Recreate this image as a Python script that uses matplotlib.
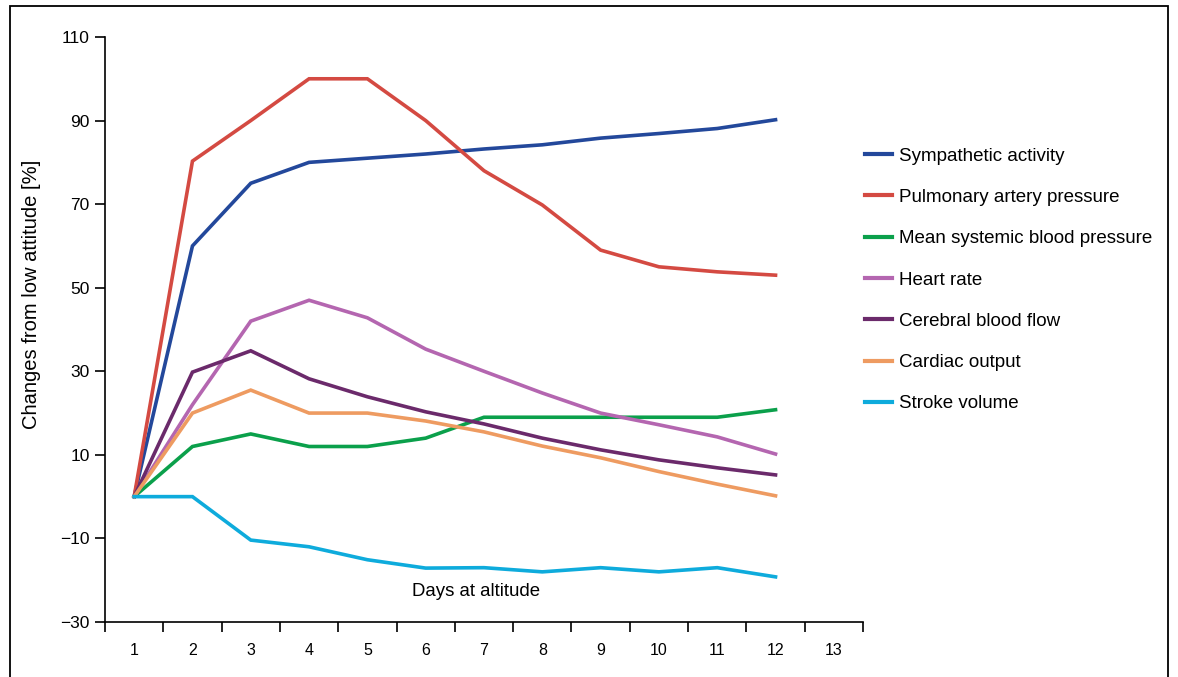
import numpy as np
import matplotlib
matplotlib.use("Agg")
import matplotlib.pyplot as plt
from matplotlib.patches import Rectangle

plt.rcParams['font.family'] = ['Liberation Sans', 'DejaVu Sans']

# days at altitude
days = [1, 2, 3, 4, 5, 6, 7, 8, 9, 10, 11, 12]
day_labels = [str(d) for d in range(1, 14)]

# changes from low altitude [%]
sympathetic = [0, 60, 75, 80, 81, 82, 83.2, 84.2, 85.8, 86.9, 88.1, 90.2]
pulmonary = [0, 80.3, 90, 100, 100, 90, 78, 69.8, 59, 55, 53.8, 53]
mean_systemic = [0, 12, 15, 12, 12, 14, 19, 19, 19, 19, 19, 20.8]
heart_rate = [0, 22, 42, 47, 42.8, 35.3, 30, 24.8, 20, 17.2, 14.3, 10.2]
cerebral = [0, 29.8, 34.9, 28.2, 23.9, 20.3, 17.4, 14, 11.2, 8.8, 6.9, 5.2]
cardiac = [0, 20, 25.5, 20, 20, 18.1, 15.5, 12.1, 9.3, 6, 3, 0.2]
stroke = [0, 0, -10.4, -12, -15.1, -17.1, -17, -18, -17, -18, -17, -19.2]

series = [
    ("Sympathetic activity", sympathetic, "#23489b"),
    ("Pulmonary artery pressure", pulmonary, "#d44a42"),
    ("Mean systemic blood pressure", mean_systemic, "#0ba04b"),
    ("Heart rate", heart_rate, "#b466b0"),
    ("Cerebral blood flow", cerebral, "#6b2a6b"),
    ("Cardiac output", cardiac, "#ee9b61"),
    ("Stroke volume", stroke, "#0eabdc"),
]

fig = plt.figure(figsize=(11.78, 6.77), dpi=100)
ax = fig.add_axes([105 / 1178, 1 - 622 / 677, (863 - 105) / 1178, (622 - 37) / 677])

for name, vals, col in series:
    ax.plot(days, vals, color=col, lw=2.6, label=name, solid_joinstyle='miter')

ax.set_xlim(0.5, 13.5)
ax.set_ylim(-30, 110)
ax.set_yticks(np.arange(-30, 111, 20))
ax.set_xticks(np.arange(1, 14))
ax.set_xticklabels(day_labels)
ax.set_xticks(np.arange(0.5, 13.6, 1), minor=True)
ax.tick_params(axis='x', which='major', length=0, pad=15, labelsize=11.5)
ax.tick_params(axis='x', which='minor', length=7.5, width=1.2, direction='out')
ax.tick_params(axis='y', length=7, width=1.2, direction='out', labelsize=12.5, pad=4)

for s in ['top', 'right']:
    ax.spines[s].set_visible(False)
for s in ['left', 'bottom']:
    ax.spines[s].set_linewidth(1.2)

ax.set_ylabel("Changes from low attitude [%]", fontsize=14.5)
ax.yaxis.set_label_coords((41 - 105) / 758, (622 - 294) / 585)
ax.text(6.86, -22.8, "Days at altitude", fontsize=13.4, ha='center', va='center')

leg = fig.legend(loc='upper left', bbox_to_anchor=(857 / 1178, 1 - 140 / 677),
                 frameon=False, fontsize=13.5, handlelength=1.45,
                 handletextpad=0.4, labelspacing=1.29, borderaxespad=0)
for h in leg.get_lines():
    h.set_linewidth(3)

# outer frame
fig.patches.append(Rectangle((10 / 1178, -0.1), (1168 - 10) / 1178, 1.1 - 6 / 677,
                             transform=fig.transFigure, fill=False,
                             lw=1.3, edgecolor='black', clip_on=False))

fig.savefig("out.png", dpi=100)
